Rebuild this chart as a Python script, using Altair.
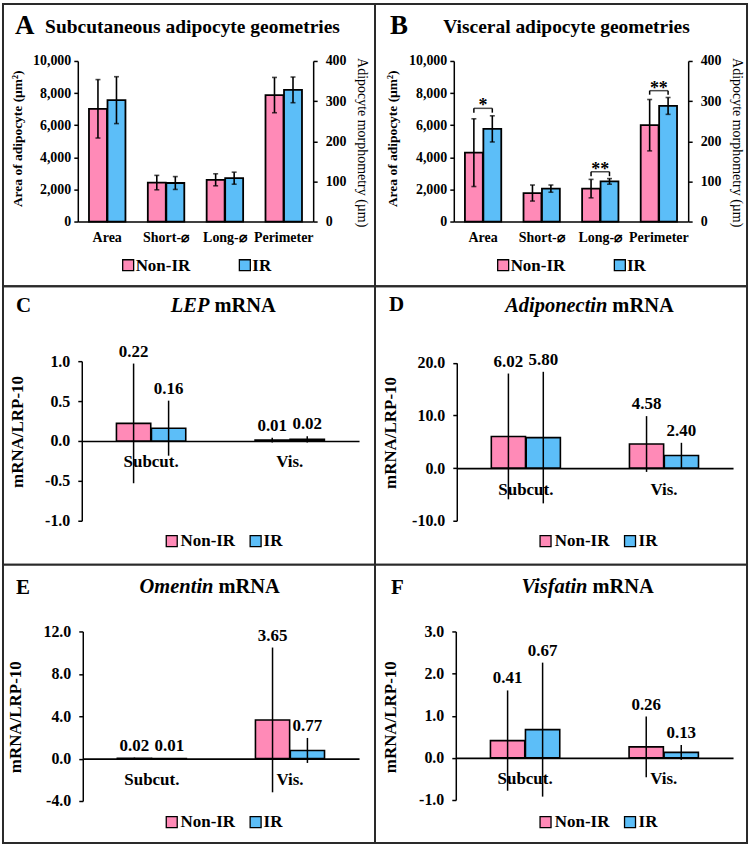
import altair as alt
import pandas as pd

FONT = "Liberation Serif"
INK = "black"
PINK = "#FF8AB7"
BLUE = "#5CBEF8"
GROUPS = ["Non-IR", "IR"]
GROUP_COLORS = [PINK, BLUE]

CELL_W = 373

# ---------------- adipocyte geometry (A, B) ----------------
geo_categories = ["Area", "Short-\u2300", "Long-\u2300", "Perimeter"]
geo_axis_side = ["left", "right", "right", "right"]   # Area on µm² axis, the rest on µm axis

subq_nonir = [7020, 97, 104, 315]
subq_nonir_sd = [1820, 18, 15, 44]
subq_ir = [7560, 96, 108, 328]
subq_ir_sd = [1460, 16, 15, 32]

visc_nonir = [4290, 71, 82, 240]
visc_nonir_sd = [2110, 20, 23, 64]
visc_ir = [5770, 82, 100, 288]
visc_ir_sd = [815, 9, 7, 21]

# significance brackets (visceral)
sig_categories = ["Area", "Long-\u2300", "Perimeter"]
sig_sides = ["left", "right", "right"]
sig_labels = ["*", "**", "**"]
sig_top = [7050, 124, 326]
sig_drop = [6780, 113, 316]

# ---------------- mRNA expression (C-F) ----------------
depots = ["Subcut.", "Vis."]

lep_nonir = [0.22, 0.01]
lep_nonir_sd = [0.75, 0.03]
lep_ir = [0.16, 0.02]
lep_ir_sd = [0.345, 0.04]

adipo_nonir = [6.02, 4.58]
adipo_nonir_sd = [11.95, 5.30]
adipo_ir = [5.80, 2.40]
adipo_ir_sd = [12.50, 2.41]

oment_nonir = [0.02, 3.65]
oment_nonir_sd = [0.08, 6.83]
oment_ir = [0.01, 0.77]
oment_ir_sd = [0.05, 1.18]

visf_nonir = [0.41, 0.26]
visf_nonir_sd = [1.19, 0.72]
visf_ir = [0.67, 0.13]
visf_ir_sd = [1.59, 0.175]


def text_note(text, x, y, size, align="left", angle=0, weight="bold", italic=False,
              baseline="alphabetic"):
    return alt.Chart(pd.DataFrame({"t": [text]})).mark_text(
        align=align, baseline=baseline, angle=angle, font=FONT, fontSize=size,
        fontWeight=weight, fontStyle="italic" if italic else "normal", color=INK,
    ).encode(text="t:N", x=alt.value(x), y=alt.value(y))


def key_marks(square_x, square_y, label_x, label_y):
    """Group key: a swatch and a label for each group."""
    layers = []
    for grp, colour, sx, lx in zip(GROUPS, GROUP_COLORS, square_x, label_x):
        layers.append(
            alt.Chart(pd.DataFrame({"grp": [grp]})).mark_square(
                size=121, color=colour, opacity=1, stroke=INK, strokeWidth=1.3,
            ).encode(x=alt.value(sx), y=alt.value(square_y))
        )
        layers.append(text_note(grp, lx, label_y, 17))
    return layers


def group_rows(cats, nonir, nonir_sd, ir, ir_sd, sides=None):
    rows = []
    for i, cat in enumerate(cats):
        side = sides[i] if sides else "left"
        for grp, v, sd in (("Non-IR", nonir[i], nonir_sd[i]), ("IR", ir[i], ir_sd[i])):
            rows.append({"cat": cat, "side": side, "grp": grp, "v": v,
                         "lo": v - sd, "hi": v + sd})
    return pd.DataFrame(rows)


COLOR_ENC = alt.Color("grp:N", sort=GROUPS, legend=None,
                      scale=alt.Scale(domain=GROUPS, range=GROUP_COLORS))


def geometry_panel(letter, title, nonir, nonir_sd, ir, ir_sd, lay, with_sig=False):
    H = 283
    x0, x1, top, base = lay["plot"]
    df = group_rows(geo_categories, nonir, nonir_sd, ir, ir_sd, geo_axis_side)

    x_enc = alt.X(
        "cat:N", sort=geo_categories, title=None,
        scale=alt.Scale(domain=geo_categories, range=[x0, x1], paddingInner=0.38, paddingOuter=0.19),
        axis=alt.Axis(orient="bottom", offset=-(H - base), ticks=False, tickSize=0,
                      labelPadding=9, labelFontSize=14, labelAngle=0, domainWidth=1.6),
    )
    off_enc = alt.XOffset("grp:N", sort=GROUPS, scale=alt.Scale(domain=GROUPS, paddingInner=0.03))

    sides = {
        "left": dict(domain=[0, 10000], axis=alt.Axis(
            orient="left", offset=-x0, values=[0, 2000, 4000, 6000, 8000, 10000], format=",d",
            tickSize=4, labelPadding=3, labelFontSize=14, title=None)),
        "right": dict(domain=[0, 400], axis=alt.Axis(
            orient="right", offset=-(CELL_W - x1), values=[0, 100, 200, 300, 400], format="d",
            tickSize=4, labelPadding=8, labelFontSize=14, title=None)),
    }

    sig_df = pd.DataFrame({"cat": sig_categories, "side": sig_sides, "label": sig_labels,
                           "top": sig_top, "drop": sig_drop})
    legs = sig_df.loc[sig_df.index.repeat(2)].reset_index(drop=True)
    legs["grp"] = GROUPS * len(sig_df)

    side_layers = []
    for side, spec in sides.items():
        y_scale = alt.Scale(domain=spec["domain"], range=[base, top], nice=False, zero=False)

        def yq(field):
            return alt.Y(field, type="quantitative", title=None, scale=y_scale, axis=spec["axis"])

        sub = alt.Chart(df).transform_filter(alt.datum.side == side)
        bars = sub.mark_bar(stroke=INK, strokeWidth=1.8).encode(
            x=x_enc, xOffset=off_enc, y=yq("v"), y2=alt.datum(0), color=COLOR_ENC)
        err = sub.mark_rule(color=INK, strokeWidth=1.6).encode(
            x=x_enc, xOffset=off_enc, y=yq("lo"), y2=alt.Y2("hi"))
        caps = sub.transform_fold(["lo", "hi"], as_=["end", "edge"]).mark_tick(
            color=INK, thickness=1.6, size=5, orient="horizontal").encode(
            x=x_enc, xOffset=off_enc, y=yq("edge"))
        parts = [bars, err, caps]
        if with_sig:
            sleg = alt.Chart(legs).transform_filter(alt.datum.side == side)
            shead = alt.Chart(sig_df).transform_filter(alt.datum.side == side)
            parts += [
                sleg.mark_rule(color=INK, strokeWidth=1.5).encode(
                    x=x_enc, xOffset=off_enc, y=yq("drop"), y2=alt.Y2("top")),
                shead.mark_tick(color=INK, thickness=1.5, size=18.5, orient="horizontal").encode(
                    x=x_enc, y=yq("top")),
                shead.mark_text(font=FONT, fontSize=18, fontWeight="bold", color=INK,
                                baseline="alphabetic", dy=3).encode(
                    x=x_enc, y=yq("top"), text="label:N"),
            ]
        side_layers.append(alt.layer(*parts))

    decor = [
        text_note(letter, lay["letter_x"], 30, 27),
        text_note(title, lay["title_x"], 29, 19.5, align="center"),
        text_note("Area of adipocyte (\u00b5m\u00b2)", lay["ytitle_l"], 135, 13.5,
                  align="center", angle=270, baseline="middle"),
        text_note("Adipocyte morphometry (\u00b5m)", lay["ytitle_r"], 139, 14,
                  align="center", angle=90, baseline="middle", weight="normal"),
    ] + key_marks(*lay["key"])
    return alt.layer(*side_layers, *decor).resolve_scale(y="independent").properties(
        width=CELL_W, height=H)


def mrna_panel(letter, gene, nonir, nonir_sd, ir, ir_sd, lay):
    H = 279
    x0, x1, top, base = lay["plot"]
    d_lo, d_hi = lay["domain"]
    zero_px = base - (0 - d_lo) / (d_hi - d_lo) * (base - top)
    df = group_rows(depots, nonir, nonir_sd, ir, ir_sd)

    x_enc = alt.X(
        "cat:N", sort=depots, title=None,
        scale=alt.Scale(domain=depots, range=[x0, x1], paddingInner=0.5, paddingOuter=0.25),
        axis=alt.Axis(orient="bottom", offset=-(H - zero_px), ticks=False, tickSize=0,
                      labelPadding=13, labelFontSize=17, labelAngle=0, domainWidth=1.6),
    )
    off_enc = alt.XOffset("grp:N", sort=GROUPS, scale=alt.Scale(domain=GROUPS, paddingInner=0.02))
    y_scale = alt.Scale(domain=[d_lo, d_hi], range=[base, top], nice=False, zero=False)
    y_axis = alt.Axis(orient="left", offset=-x0, values=lay["ticks"], tickSize=4, labelPadding=8,
                      labelFontSize=16, title=None,
                      labelExpr="replace(format(datum.value, '.1f'), '\u2212', '-')")

    def yq(field):
        return alt.Y(field, type="quantitative", title=None, scale=y_scale, axis=y_axis)

    base_chart = alt.Chart(df)
    bars = base_chart.mark_bar(stroke=INK, strokeWidth=1.6).encode(
        x=x_enc, xOffset=off_enc, y=yq("v"), y2=alt.datum(0), color=COLOR_ENC)
    err = base_chart.mark_rule(color=INK, strokeWidth=1.5).encode(
        x=x_enc, xOffset=off_enc, y=yq("lo"), y2=alt.Y2("hi"))
    values = base_chart.mark_text(font=FONT, fontSize=17, fontWeight="bold", color=INK,
                                  baseline="middle", dy=-12).encode(
        x=x_enc, xOffset=off_enc, y=yq("hi"), text=alt.Text("v:Q", format=".2f"))

    jx, ty = lay["title_join"], lay["title_y"]
    decor = [
        text_note(letter, lay["letter_x"], lay["letter_y"], 21),
        text_note(gene, jx - 3, ty, 20.5, align="right", italic=True),
        text_note("mRNA", jx + 2, ty, 20.5),
        text_note("mRNA/LRP-10", lay["ytitle"][0], lay["ytitle"][1], 17,
                  align="center", angle=270, baseline="middle"),
    ] + key_marks(*lay["key"])
    return alt.layer(bars, err, values, *decor).properties(width=CELL_W, height=H)


panel_a = geometry_panel(
    "A", "Subcutaneous adipocyte geometries", subq_nonir, subq_nonir_sd, subq_ir, subq_ir_sd,
    dict(plot=(75, 311, 57, 218), letter_x=12, title_x=190, ytitle_l=15, ytitle_r=360,
         key=((125.5, 242.5), 261.8, (133, 250), 268)))
panel_b = geometry_panel(
    "B", "Visceral adipocyte geometries", visc_nonir, visc_nonir_sd, visc_ir, visc_ir_sd,
    dict(plot=(79, 314, 57, 218), letter_x=15, title_x=192, ytitle_l=18, ytitle_r=363,
         key=((128.5, 245.5), 261.8, (136, 252.7), 268)), with_sig=True)

panel_c = mrna_panel("C", "LEP", lep_nonir, lep_nonir_sd, lep_ir, lep_ir_sd, dict(
    plot=(79, 357, 75, 235), domain=(-1, 1), ticks=[-1, -0.5, 0, 0.5, 1],
    letter_x=13, letter_y=26, title_join=210, title_y=26, ytitle=(15.5, 146),
    key=((169.2, 253.3), 255.5, (178, 261.3), 260.5)))
panel_d = mrna_panel("D", "Adiponectin", adipo_nonir, adipo_nonir_sd, adipo_ir, adipo_ir_sd, dict(
    plot=(82, 359, 76.7, 235), domain=(-10, 20), ticks=[-10, 0, 10, 20],
    letter_x=14, letter_y=25, title_join=236, title_y=26, ytitle=(16, 147),
    key=((171, 255.7), 255.5, (180.3, 264.3), 260.5)))
panel_e = mrna_panel("E", "Omentin", oment_nonir, oment_nonir_sd, oment_ir, oment_ir_sd, dict(
    plot=(80, 357, 67, 237), domain=(-4, 12), ticks=[-4, 0, 4, 8, 12],
    letter_x=13, letter_y=29, title_join=214, title_y=28, ytitle=(13, 153),
    key=((169.2, 253.3), 258.2, (178, 261.3), 263)))
panel_f = mrna_panel("F", "Visfatin", visf_nonir, visf_nonir_sd, visf_ir, visf_ir_sd, dict(
    plot=(81, 359, 67, 236), domain=(-1, 3), ticks=[-1, 0, 1, 2, 3],
    letter_x=16, letter_y=29, title_join=216, title_y=28, ytitle=(16, 153),
    key=((171, 255.7), 258.2, (180.3, 264.3), 263)))

chart = alt.concat(
    panel_a, panel_b, panel_c, panel_d, panel_e, panel_f,
    columns=2, spacing=0, bounds="flush",
).resolve_scale(
    x="independent", y="independent", xOffset="independent", color="independent",
).properties(
    padding={"left": 2, "top": 2, "right": 3, "bottom": 2},
    background="white",
).configure(font=FONT).configure_view(
    stroke="#2a2a2a", strokeWidth=2,
).configure_axis(
    labelFont=FONT, labelFontWeight="bold", labelColor=INK, domainColor=INK, tickColor=INK,
    tickWidth=1.5, domainWidth=1.5, grid=False,
)

chart.save("out.html", embed_options={"renderer": "svg", "actions": False})
